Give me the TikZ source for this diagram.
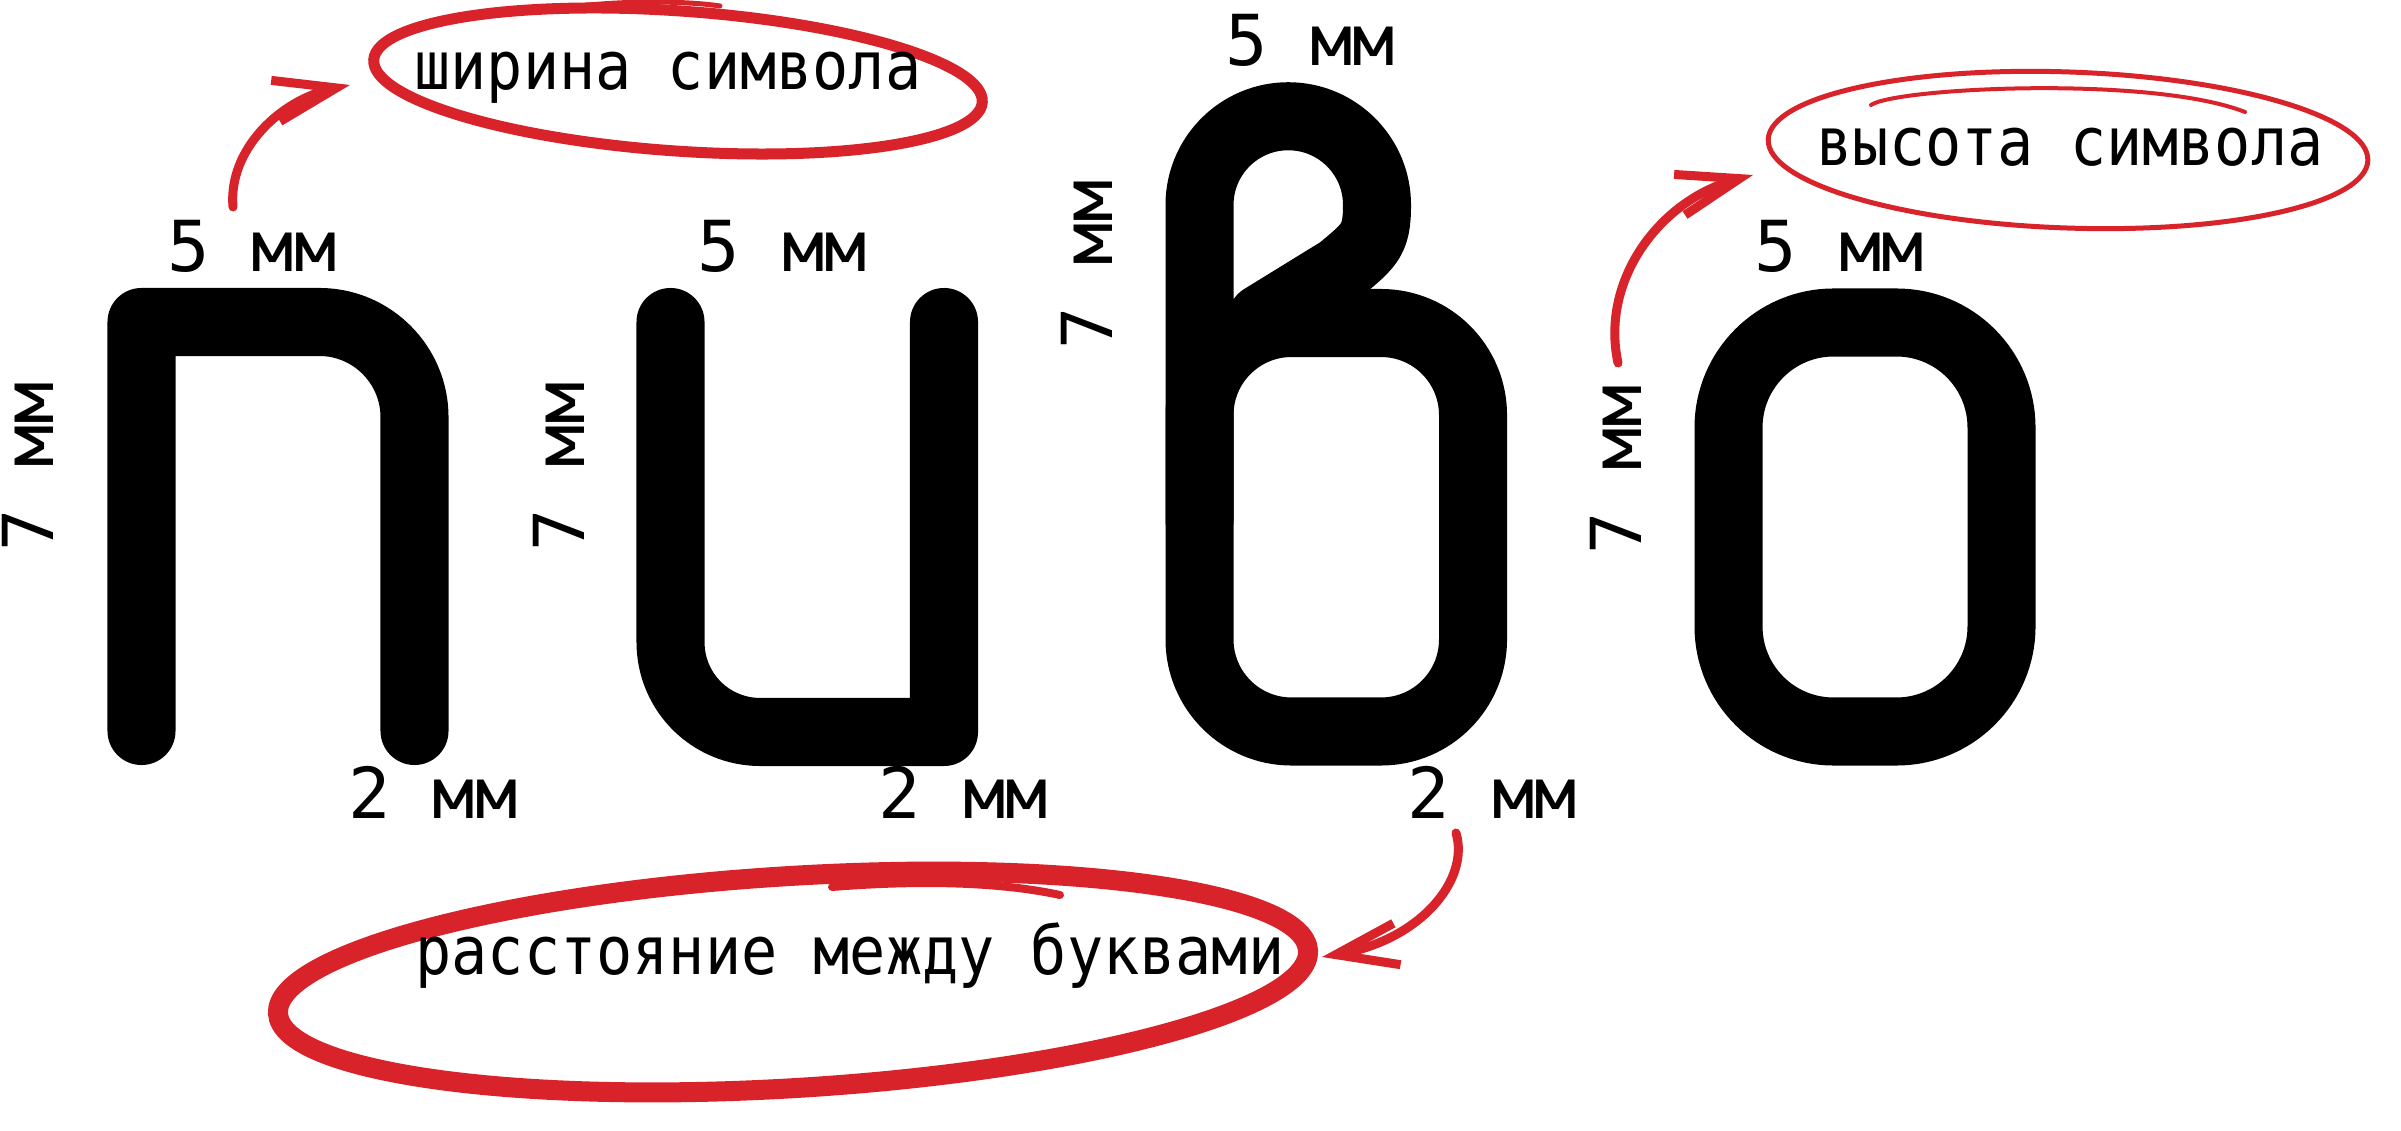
\documentclass[tikz,border=0pt]{standalone}
\usepackage{fontspec}
\newfontfamily\dimfnt{DejaVu Sans Mono}
\newfontfamily\notefnt[FakeStretch=0.9]{DejaVu Sans Mono}
\usetikzlibrary{arrows.meta}
\definecolor{markred}{RGB}{217,35,42}

\begin{document}
\begin{tikzpicture}[
  x=0.01cm, y=-0.01cm,
  glyph/.style={line width=0.68cm, line cap=round, line join=round},
  dim/.style={font=\dimfnt\fontsize{20pt}{24pt}\selectfont, inner sep=0pt, anchor=base},
  vdim/.style={dim, rotate=90},
  note/.style={font=\notefnt\fontsize{19pt}{23pt}\selectfont, inner sep=0pt, anchor=base},
  ring/.style={draw=markred, line cap=round},
  pen/.style={draw=markred, line width=0.09cm, line cap=round,
              -{Straight Barb[length=0.62cm, width=0.42cm]}}
]
  \useasboundingbox (0,0) rectangle (2401,1131);

  % the four letters
  \draw[glyph] (141.5,731) -- (141.5,322) -- (319.5,322)
      .. controls (372,322) and (414.5,365) .. (414.5,417) -- (414.5,731);
  \draw[glyph] (670.5,322) -- (670.5,642)
      .. controls (670.5,692) and (710.5,732) .. (760.5,732) -- (944,732) -- (944,322);
  \draw[glyph, rounded corners=0.92cm] (1199.5,323) rectangle (1473,731.5);
  \draw[glyph] (1199.5,520) -- (1199.5,205) arc[start angle=180, end angle=360, radius=88.75]
      .. controls (1377,240) and (1370,245) .. (1340,270) -- (1262,318);
  \draw[glyph, rounded corners=1.05cm] (1728.5,322.5) rectangle (2001.5,731.5);

  % marker rings
  \draw[ring, line width=0.11cm, rotate around={-4:(678,81)}] (678,81) ellipse [x radius=305, y radius=70];
  \draw[ring, line width=0.05cm] (540,12) .. controls (600,0) and (680,0) .. (720,6);
  \draw[ring, line width=0.05cm, rotate around={-2:(2068,150)}] (2068,150) ellipse [x radius=300, y radius=78];
  \draw[ring, line width=0.04cm] (1871,105) .. controls (1895,88) and (2150,75) .. (2245,112);
  \draw[ring, line width=0.2cm, rotate around={3.5:(793,982)}] (793,982) ellipse [x radius=516, y radius=106];
  \draw[ring, line width=0.08cm] (832,887) .. controls (920,880) and (1000,882) .. (1060,895);

  % sizes
  \node[dim] (wdP) at (252,272) {5 мм};
  \node[dim] (wdI) at (782,272) {5 мм};
  \node[dim] (wdV) at (1310,66) {5 мм};
  \node[dim] (wdO) at (1839,272) {5 мм};
  \node[vdim] (htP) at (54,467) {7 мм};
  \node[vdim] (htI) at (584,467) {7 мм};
  \node[vdim] (htV) at (1112,265) {7 мм};
  \node[vdim] (htO) at (1641,470) {7 мм};
  \node[dim] (gpP) at (433,818) {2 мм};
  \node[dim] (gpI) at (963,818) {2 мм};
  \node[dim] (gpV) at (1492,818) {2 мм};

  \node[note] (noteW) at (668,90) {ширина символа};
  \node[note] (noteH) at (2070,166) {высота символа};
  \node[note] (noteG) at (850,974) {расстояние между буквами};

  % arrows
  \coordinate (wFrom) at (233,207);
  \coordinate (wTo) at (350,85);
  \coordinate (hFrom) at (1618,363);
  \coordinate (hTo) at (1753,175);
  \coordinate (gFrom) at (1456,833);
  \coordinate (gTo) at (1322,957);
  \draw[pen] (wFrom) .. controls (228,150) and (280,100) .. (wTo);
  \draw[pen] (hFrom) .. controls (1600,280) and (1660,200) .. (hTo);
  \draw[pen] (gFrom) .. controls (1470,880) and (1420,940) .. (gTo);
\end{tikzpicture}
\end{document}
